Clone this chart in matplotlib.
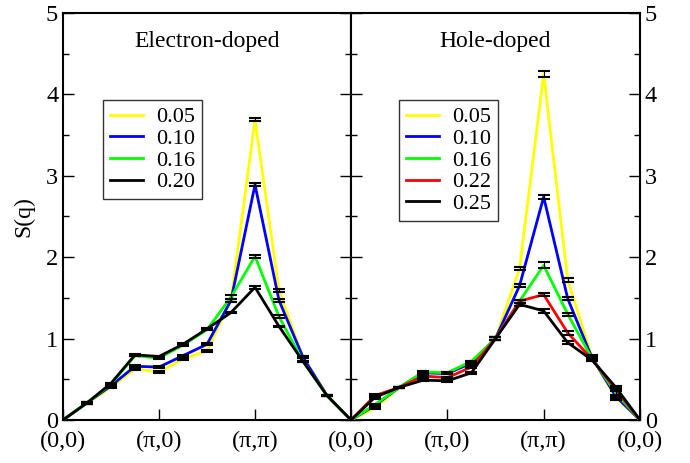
import matplotlib.pyplot as plt
import numpy as np

plt.rcParams["font.family"] = ["Liberation Serif", "DejaVu Serif"]

PATH_TICKS = [0, 4, 8, 12]
PATH_LABELS = ["(0,0)", "(\u03c0,0)", "(\u03c0,\u03c0)", "(0,0)"]

ELEC_LABELS = ["0.05", "0.10", "0.16", "0.20"]
ELEC_COLORS = ["#FFFF00", "#0000FF", "#00FF00", "#000000"]
ELEC_VALUES = [
    [0, 0.21, 0.40, 0.63, 0.59, 0.75, 0.85, 1.47, 3.69, 1.59, 0.77, 0.30, 0],
    [0, 0.21, 0.42, 0.66, 0.65, 0.79, 0.93, 1.47, 2.89, 1.47, 0.77, 0.30, 0],
    [0, 0.21, 0.44, 0.79, 0.76, 0.92, 1.11, 1.51, 2.01, 1.27, 0.72, 0.30, 0],
    [0, 0.21, 0.45, 0.80, 0.78, 0.93, 1.12, 1.32, 1.63, 1.15, 0.72, 0.30, 0],
]
ELEC_ERRORS = [
    [0, 0.01, 0.01, 0.01, 0.01, 0.01, 0.01, 0.02, 0.02, 0.02, 0.01, 0.01, 0],
    [0, 0.01, 0.01, 0.01, 0.01, 0.01, 0.01, 0.02, 0.02, 0.02, 0.01, 0.01, 0],
    [0, 0.01, 0.01, 0.01, 0.01, 0.01, 0.01, 0.02, 0.02, 0.02, 0.01, 0.01, 0],
    [0, 0.01, 0.01, 0.01, 0.01, 0.01, 0.01, 0.01, 0.02, 0.01, 0.01, 0.01, 0],
]

HOLE_LABELS = ["0.05", "0.10", "0.16", "0.22", "0.25"]
HOLE_COLORS = ["#FFFF00", "#0000FF", "#00FF00", "#FF0000", "#000000"]
HOLE_VALUES = [
    [0, 0.15, 0.40, 0.59, 0.58, 0.72, 1.00, 1.86, 4.25, 1.72, 0.78, 0.27, 0],
    [0, 0.18, 0.40, 0.58, 0.57, 0.70, 1.00, 1.65, 2.74, 1.49, 0.77, 0.29, 0],
    [0, 0.19, 0.40, 0.59, 0.58, 0.72, 1.00, 1.46, 1.90, 1.30, 0.76, 0.33, 0],
    [0, 0.30, 0.40, 0.54, 0.52, 0.65, 1.00, 1.46, 1.54, 1.07, 0.75, 0.37, 0],
    [0, 0.28, 0.40, 0.49, 0.48, 0.58, 1.00, 1.42, 1.34, 0.95, 0.74, 0.40, 0],
]
HOLE_ERRORS = [
    [0, 0.01, 0.01, 0.01, 0.01, 0.01, 0.02, 0.02, 0.035, 0.02, 0.02, 0.02, 0],
    [0, 0.01, 0.01, 0.01, 0.01, 0.01, 0.02, 0.02, 0.025, 0.02, 0.02, 0.02, 0],
    [0, 0.01, 0.01, 0.01, 0.01, 0.01, 0.02, 0.02, 0.035, 0.02, 0.02, 0.02, 0],
    [0, 0.02, 0.01, 0.01, 0.01, 0.01, 0.02, 0.02, 0.02, 0.02, 0.02, 0.02, 0],
    [0, 0.02, 0.01, 0.01, 0.01, 0.01, 0.02, 0.02, 0.02, 0.02, 0.02, 0.02, 0],
]


def draw_panel(ax, values, errors, labels, colors, title):
    x = np.arange(len(values[0]))
    handles = []
    for vals, errs, label, color in zip(values, errors, labels, colors):
        (line,) = ax.plot(x, vals, color=color, lw=2.0, label=label, zorder=3)
        ax.errorbar(x[1:-1], vals[1:-1], yerr=errs[1:-1], fmt="none",
                    ecolor="black", elinewidth=0.8, capsize=4.0, capthick=1.5, zorder=4)
        handles.append(line)
    ax.set_xlim(0, 12)
    ax.set_ylim(0, 5)
    ax.set_yticks(np.arange(0, 5.1, 1))
    ax.set_yticks(np.arange(0.5, 5, 1), minor=True)
    ax.tick_params(which="both", direction="in", left=True, right=True, top=False,
                   labelsize=17.5)
    ax.tick_params(which="major", length=8, width=1.0)
    ax.tick_params(which="minor", length=4, width=1.0)
    for spine in ax.spines.values():
        spine.set_linewidth(1.5)
    ax.text(0.5, 0.93, title, transform=ax.transAxes, ha="center", va="center", fontsize=17)
    return handles


fig = plt.figure(figsize=(6.9, 4.63), dpi=100)
ax1 = fig.add_axes([0.0913, 0.0929, 0.4174, 0.8791])
ax2 = fig.add_axes([0.5087, 0.0929, 0.4188, 0.8791])

h1 = draw_panel(ax1, ELEC_VALUES, ELEC_ERRORS, ELEC_LABELS, ELEC_COLORS, "Electron-doped")
h2 = draw_panel(ax2, HOLE_VALUES, HOLE_ERRORS, HOLE_LABELS, HOLE_COLORS, "Hole-doped")

ax1.set_xticks(PATH_TICKS, PATH_LABELS)
ax2.set_xticks(PATH_TICKS, [""] + PATH_LABELS[1:])
ax1.tick_params(axis="x", labelsize=17.5, pad=8)
ax2.tick_params(axis="x", labelsize=17.5, pad=8)
ax1.tick_params(axis="y", labelleft=True, labelright=False)
ax2.tick_params(axis="y", labelleft=False, labelright=True)
ax1.set_ylabel("S(q)", fontsize=17, labelpad=8)

leg_kw = dict(frameon=True, fancybox=False, edgecolor="black", fontsize=16,
              handlelength=1.5, handletextpad=0.6, labelspacing=0.05,
              borderpad=0.3, borderaxespad=0)
leg1 = ax1.legend(handles=h1, loc="upper left", bbox_to_anchor=(0.139, 0.786), **leg_kw)
leg2 = ax2.legend(handles=h2, loc="upper left", bbox_to_anchor=(0.166, 0.786), **leg_kw)
for leg in (leg1, leg2):
    leg.get_frame().set_linewidth(1.0)

fig.savefig("out.png", dpi=100)
